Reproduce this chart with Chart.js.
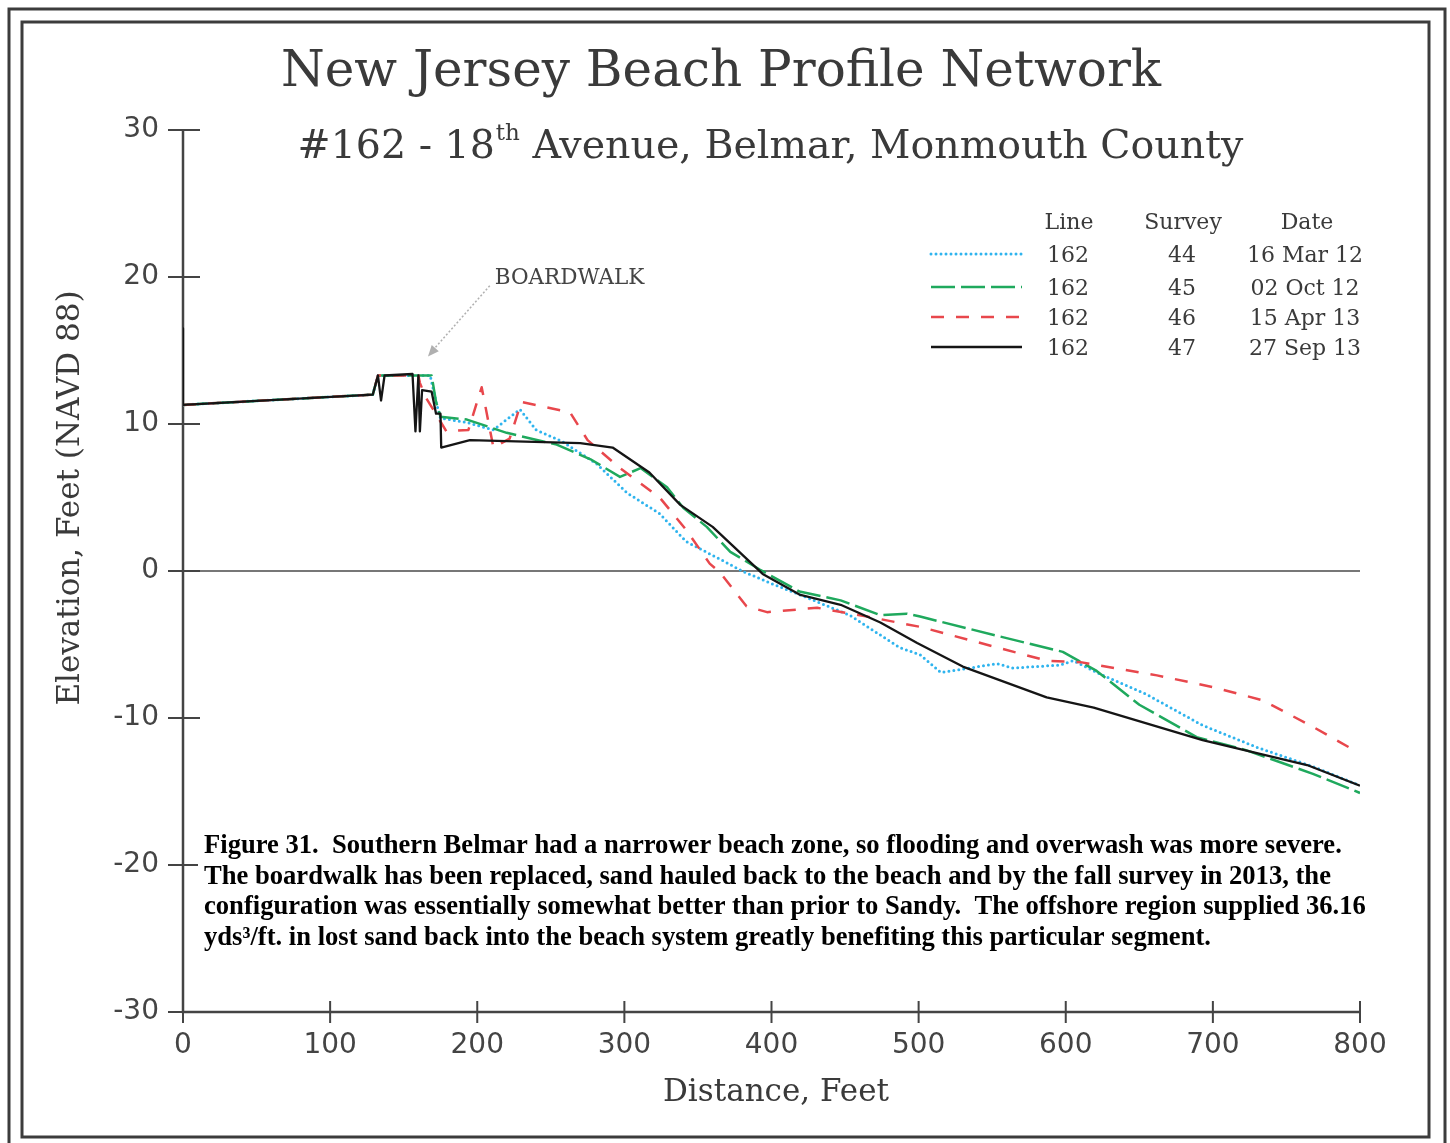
<!DOCTYPE html>
<html>
<head>
<meta charset="utf-8">
<title>New Jersey Beach Profile Network - #162 18th Avenue, Belmar</title>
<script src="https://cdn.jsdelivr.net/npm/chart.js@4.4.1/dist/chart.umd.min.js"></script>
<style>
  html, body { margin: 0; padding: 0; background: #fff; }
  #wrap { width: 1450px; height: 1143px; }
</style>
</head>
<body>
<div id="wrap"><canvas id="profileChart" width="1450" height="1143"></canvas></div>
<script>
// axis ticks
const xTicks = [0, 100, 200, 300, 400, 500, 600, 700, 800];
const yTicks = [30, 20, 10, 0, -10, -20, -30];

// legend table
const lineNumbers = ["162", "162", "162", "162"];
const surveyNumbers = ["44", "45", "46", "47"];
const surveyDates = ["16 Mar 12", "02 Oct 12", "15 Apr 13", "27 Sep 13"];

// survey 44 - 16 Mar 12
const dist44 = [0, 129, 132.5, 137, 168, 172, 175, 193, 211, 229, 240, 258, 281, 302, 324, 342, 367, 380, 401, 419, 453, 487, 501, 515, 535, 553, 564, 596, 605, 623, 655, 693, 730, 768, 800];
const elev44 = [11.3, 12.0, 13.3, 13.3, 13.3, 11.5, 10.4, 10.1, 9.6, 11.0, 9.6, 8.8, 7.3, 5.3, 3.9, 2.0, 0.7, 0.0, -0.9, -1.6, -3.0, -5.2, -5.7, -6.9, -6.6, -6.3, -6.6, -6.4, -6.1, -7.0, -8.4, -10.5, -12.0, -13.3, -14.6];

// survey 45 - 02 Oct 12
const dist45 = [0, 129, 132.5, 137, 169, 172, 175, 193, 220, 254, 277, 297, 311, 329, 340, 356, 372, 392, 419, 447, 474, 492, 501, 553, 598, 621, 650, 689, 723, 768, 800];
const elev45 = [11.3, 12.0, 13.3, 13.3, 13.3, 11.5, 10.5, 10.3, 9.4, 8.6, 7.6, 6.4, 7.0, 5.7, 4.3, 3.0, 1.3, 0.1, -1.4, -2.0, -3.0, -2.9, -3.1, -4.4, -5.5, -6.8, -9.1, -11.3, -12.2, -13.8, -15.1];

// survey 46 - 15 Apr 13
const dist46 = [0, 129, 132.5, 137, 160, 161, 165, 170, 179, 194, 203, 211, 222, 230, 263, 275, 297, 324, 342, 358, 365, 383, 397, 431, 465, 501, 587, 610, 662, 700, 734, 768, 798];
const elev46 = [11.3, 12.0, 13.3, 13.3, 13.3, 12.8, 11.8, 11.0, 9.5, 9.6, 12.5, 8.4, 9.0, 11.5, 10.8, 8.9, 7.0, 5.0, 2.8, 0.5, -0.1, -2.4, -2.8, -2.5, -3.1, -3.8, -6.1, -6.2, -7.1, -7.9, -8.8, -10.6, -12.3];

// survey 47 - 27 Sep 13
const dist47 = [0, 0, 129, 132.5, 134.6, 137, 156, 158, 160, 161, 162.5, 169, 172, 175, 175.5, 195, 270, 292, 317, 338, 360, 394, 419, 447, 474, 499, 530, 587, 619, 693, 764, 800];
const elev47 = [16.5, 11.3, 12.0, 13.3, 11.6, 13.3, 13.4, 9.5, 13.3, 9.5, 12.3, 12.2, 10.7, 10.7, 8.4, 8.9, 8.7, 8.4, 6.7, 4.5, 3.0, -0.2, -1.6, -2.3, -3.5, -4.9, -6.5, -8.6, -9.3, -11.5, -13.2, -14.6];

const toPoints = (xs, ys) => xs.map((x, i) => ({ x: x, y: ys[i] }));

const styles = [
  { color: "#2fb4ee", width: 3, dash: [0, 5], cap: "round" },
  { color: "#1fa95d", width: 2.5, dash: [24, 6], cap: "butt" },
  { color: "#e8474c", width: 2.5, dash: [13, 12], cap: "butt" },
  { color: "#151515", width: 2.3, dash: [], cap: "butt" }
];

const serif = "'DejaVu Serif', serif";
const sans = "'DejaVu Sans', sans-serif";
const ink = "#3a3a3a";

const caption = [
  "Figure 31.  Southern Belmar had a narrower beach zone, so flooding and overwash was more severe.",
  "The boardwalk has been replaced, sand hauled back to the beach and by the fall survey in 2013, the",
  "configuration was essentially somewhat better than prior to Sandy.  The offshore region supplied 36.16",
  "yds\u00B3/ft. in lost sand back into the beach system greatly benefiting this particular segment."
];

function applyStyle(ctx, s) {
  ctx.strokeStyle = s.color;
  ctx.lineWidth = s.width;
  ctx.setLineDash(s.dash);
  ctx.lineCap = s.cap;
}

const decor = {
  id: "decor",
  beforeDraw(chart) {
    const ctx = chart.ctx;
    ctx.save();
    ctx.fillStyle = "#fff";
    ctx.fillRect(0, 0, chart.width, chart.height);
    ctx.strokeStyle = "#3c3c3c";
    ctx.lineWidth = 3;
    ctx.strokeRect(9, 9, 1436, 1150);
    ctx.strokeRect(22, 22, 1407, 1115);
    ctx.restore();
  },
  beforeDatasetsDraw(chart) {
    const ctx = chart.ctx;
    const xs = chart.scales.x, ys = chart.scales.y;
    const x0 = xs.getPixelForValue(0), x1 = xs.getPixelForValue(800);
    const yTop = ys.getPixelForValue(30), yBot = ys.getPixelForValue(-30);
    ctx.save();
    // zero line
    ctx.strokeStyle = "#777";
    ctx.lineWidth = 2;
    ctx.beginPath();
    ctx.moveTo(x0, ys.getPixelForValue(0));
    ctx.lineTo(x1, ys.getPixelForValue(0));
    ctx.stroke();
    // axes
    ctx.strokeStyle = "#444";
    ctx.lineWidth = 2.5;
    ctx.beginPath();
    ctx.moveTo(x0, yTop);
    ctx.lineTo(x0, yBot);
    ctx.lineTo(x1, yBot);
    ctx.stroke();
    ctx.lineWidth = 2;
    ctx.beginPath();
    yTicks.forEach(v => {
      const py = ys.getPixelForValue(v);
      ctx.moveTo(x0 - 15, py);
      ctx.lineTo(x0 + 17, py);
    });
    xTicks.forEach(v => {
      const px = xs.getPixelForValue(v);
      ctx.moveTo(px, yBot - 11);
      ctx.lineTo(px, yBot + 11);
    });
    ctx.stroke();
    // tick labels
    ctx.fillStyle = "#444";
    ctx.font = "28px " + sans;
    ctx.textAlign = "right";
    ctx.textBaseline = "middle";
    yTicks.forEach(v => ctx.fillText(String(v), x0 - 24, ys.getPixelForValue(v)));
    ctx.textAlign = "center";
    ctx.textBaseline = "alphabetic";
    xTicks.forEach(v => ctx.fillText(String(v), xs.getPixelForValue(v), yBot + 41));
    ctx.restore();
  },
  afterDraw(chart) {
    const ctx = chart.ctx;
    const xs = chart.scales.x, ys = chart.scales.y;
    ctx.save();
    ctx.fillStyle = ink;
    // titles
    ctx.textBaseline = "alphabetic";
    ctx.textAlign = "center";
    ctx.font = "50px " + serif;
    ctx.fillText("New Jersey Beach Profile Network", 721, 86);

    const subA = "#162 - 18", subSup = "th", subB = " Avenue, Belmar, Monmouth County";
    ctx.font = "39.5px " + serif;
    const wA = ctx.measureText(subA).width, wB = ctx.measureText(subB).width;
    ctx.font = "23px " + serif;
    const wS = ctx.measureText(subSup).width;
    let sx = 770 - (wA + wS + wB) / 2;
    ctx.textAlign = "left";
    ctx.font = "39.5px " + serif;
    ctx.fillText(subA, sx, 158);
    ctx.font = "23px " + serif;
    ctx.fillText(subSup, sx + wA + 1, 140);
    ctx.font = "39.5px " + serif;
    ctx.fillText(subB, sx + wA + wS + 1, 158);

    // axis titles
    ctx.textAlign = "center";
    ctx.font = "31px " + serif;
    ctx.fillText("Distance, Feet", 776, 1101);
    ctx.save();
    ctx.translate(79, 498);
    ctx.rotate(-Math.PI / 2);
    ctx.fillText("Elevation, Feet (NAVD 88)", 0, 0);
    ctx.restore();

    // boardwalk annotation
    const tipX = xs.getPixelForValue(166.5), tipY = ys.getPixelForValue(14.6);
    const tailX = xs.getPixelForValue(208.5), tailY = ys.getPixelForValue(19.4);
    ctx.strokeStyle = "#b0b0b0";
    ctx.lineWidth = 1.5;
    ctx.setLineDash([2, 2]);
    ctx.beginPath();
    ctx.moveTo(tailX, tailY);
    ctx.lineTo(tipX + 4, tipY - 5);
    ctx.stroke();
    ctx.setLineDash([]);
    const ang = Math.atan2(tipY - tailY, tipX - tailX);
    ctx.fillStyle = "#b0b0b0";
    ctx.beginPath();
    ctx.moveTo(tipX, tipY);
    ctx.lineTo(tipX - 12 * Math.cos(ang - 0.4), tipY - 12 * Math.sin(ang - 0.4));
    ctx.lineTo(tipX - 12 * Math.cos(ang + 0.4), tipY - 12 * Math.sin(ang + 0.4));
    ctx.closePath();
    ctx.fill();
    ctx.fillStyle = "#444";
    ctx.textAlign = "left";
    ctx.font = "21.5px " + serif;
    ctx.fillText("BOARDWALK", tailX + 5, tailY - 2);

    // legend table
    ctx.fillStyle = ink;
    ctx.font = "22px " + serif;
    ctx.textAlign = "center";
    ctx.fillText("Line", 1069, 229);
    ctx.fillText("Survey", 1183, 229);
    ctx.fillText("Date", 1307, 229);
    const rowY = [254, 287, 317, 347];
    styles.forEach((s, i) => {
      ctx.save();
      applyStyle(ctx, s);
      ctx.beginPath();
      ctx.moveTo(931, rowY[i]);
      ctx.lineTo(1022, rowY[i]);
      ctx.stroke();
      ctx.restore();
      ctx.fillText(lineNumbers[i], 1068, rowY[i] + 8);
      ctx.fillText(surveyNumbers[i], 1182, rowY[i] + 8);
      ctx.fillText(surveyDates[i], 1305, rowY[i] + 8);
    });

    // caption
    ctx.fillStyle = "#fff";
    ctx.fillRect(198, 826, 1190, 128);
    ctx.fillStyle = "#000";
    ctx.textAlign = "left";
    ctx.font = "bold 26.6px 'Liberation Serif', serif";
    const capY = [853, 884, 914, 945];
    caption.forEach((t, i) => ctx.fillText(t, 204, capY[i]));
    ctx.restore();
  }
};

const series = [
  { label: "44", data: toPoints(dist44, elev44) },
  { label: "45", data: toPoints(dist45, elev45) },
  { label: "46", data: toPoints(dist46, elev46) },
  { label: "47", data: toPoints(dist47, elev47) }
];

new Chart(document.getElementById("profileChart"), {
  type: "line",
  data: {
    datasets: series.map((d, i) => ({
      label: d.label,
      data: d.data,
      borderColor: styles[i].color,
      borderWidth: styles[i].width,
      borderDash: styles[i].dash,
      borderCapStyle: styles[i].cap,
      borderJoinStyle: "round",
      pointRadius: 0,
      tension: 0,
      fill: false,
      order: 3 - i
    }))
  },
  options: {
    responsive: false,
    animation: false,
    devicePixelRatio: 1,
    layout: { padding: { left: 183, right: 90, top: 130, bottom: 131 } },
    scales: {
      x: { type: "linear", min: 0, max: 800, display: false },
      y: { type: "linear", min: -30, max: 30, display: false }
    },
    plugins: {
      legend: { display: false },
      tooltip: { enabled: false }
    }
  },
  plugins: [decor]
});
</script>
</body>
</html>
